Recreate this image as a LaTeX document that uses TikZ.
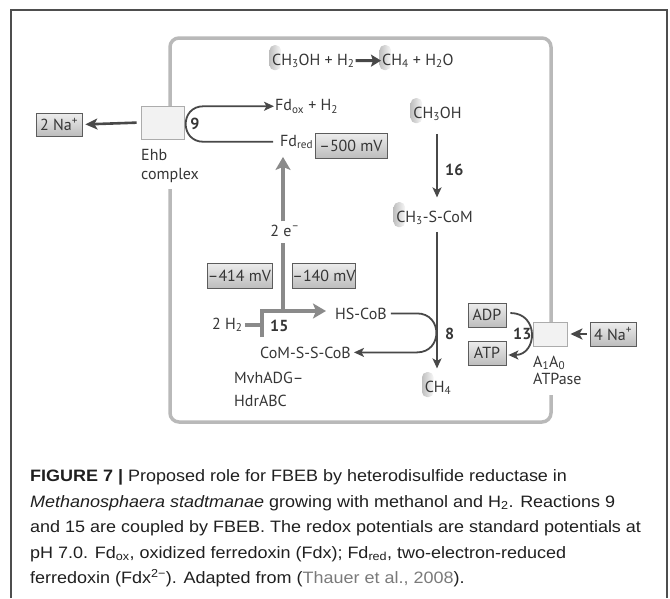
\documentclass[tikz,border=0pt]{standalone}
\usepackage{fontspec}
\setmainfont{PT Sans}
\newfontfamily\capfont[FakeStretch=1.09]{Liberation Sans}
\usetikzlibrary{arrows.meta,calc}
\definecolor{dk}{HTML}{484848}
\definecolor{lg}{HTML}{8A8A8A}
\definecolor{cellc}{HTML}{B9B9B9}
\definecolor{txt}{HTML}{363636}
\definecolor{outer}{HTML}{4E4E4E}
\definecolor{refc}{HTML}{7A7A7A}
\pgfdeclarelayer{bg}
\pgfsetlayers{bg,main}
\newcommand\hlblob[1]{%
  \begin{pgfonlayer}{bg}
  \shade[left color=gray!50, right color=gray!6, rounded corners=5pt]
    ($(#1.west)+(-2.5,-15.5)$) rectangle ($(#1.west)+(9,9.5)$);
  \end{pgfonlayer}}
\begin{document}
\begin{tikzpicture}[x=1pt,y=-1pt,
  lbl/.style={font=\fontsize{16}{18}\selectfont, text=txt, inner sep=0pt},
  num/.style={font=\bfseries\fontsize{16}{18}\selectfont, text=txt, inner sep=0pt},
  gbox/.style={draw=gray!72!black, line width=0.8pt, top color=gray!14, bottom color=gray!52,
               inner sep=0pt, font=\fontsize{16}{18}\selectfont, text=txt},
  ebox/.style={draw=gray!65, line width=0.9pt, fill=gray!10},
  captext/.style={font=\capfont\fontsize{16.5}{20}\selectfont, text=black!88, inner sep=0pt},
  darr/.style={draw=dk, line width=1.8pt, -{Stealth[length=10pt,width=9pt,inset=2.5pt]}},
  narr/.style={draw=dk, line width=2.6pt, -{Stealth[length=12pt,width=11pt,inset=3pt]}},
  garr/.style={draw=lg, line width=4pt, -{Stealth[length=13pt,width=15pt,inset=3pt]}},
  gline/.style={draw=lg, line width=4pt},
  eqarr/.style={draw=dk, line width=3pt, -{Stealth[length=10pt,width=12pt,inset=2pt]}},
  cell/.style={draw=cellc, line width=3.5pt, rounded corners=9pt},
]
\useasboundingbox (0,0) rectangle (670,598);
% outer frame
\draw[outer, line width=1.5pt] (11,598) -- (11,10) -- (667,10) -- (667,598);
% cell frame
\draw[cell] (170,106) -- (170,38) -- (551,38) -- (551,322);
\draw[cell] (170,189) -- (170,422) -- (551,422) -- (551,395);

% top equation
\node[lbl, anchor=base west] (eqL) at (272,65) {CH\textsubscript{3}OH + H\textsubscript{2}};
\node[lbl, anchor=base west] (eqR) at (382,65) {CH\textsubscript{4} + H\textsubscript{2}O};
\draw[eqarr] ($(eqL.east)+(1,0)$) -- ($(eqR.west)+(-1,0)$);
\hlblob{eqL}
\hlblob{eqR}

% Ehb complex
\node[ebox, minimum width=43pt, minimum height=33pt] (ehb) at (162.5,122.5) {};
\node[gbox, minimum width=46pt, minimum height=23pt] (na2) at (59,124.5) {2 Na\textsuperscript{+}};
\draw[narr, shorten <=4pt, shorten >=3pt] (ehb.west) -- (na2.east);
\node[lbl, anchor=base west] (ehbt) at (141,160) {Ehb};
\node[lbl, anchor=base west] (cplx) at (141,179) {complex};

% reaction 9
\node[lbl, anchor=base west] (fdox) at (275,110.5) {Fd\textsubscript{ox} + H\textsubscript{2}};
\node[lbl, anchor=base west] (fdred) at (280,146) {Fd\textsubscript{red}};
\node[gbox, minimum width=72pt, minimum height=25pt] (m500) at (351,145.5) {–500 mV};
\draw[darr] ($(fdred.west)+(-7,0)$) -- ($(fdred.west -| ehb.east)+(19,0)$)
   .. controls +(-23.7,0) and +(-23.7,0) .. ($(fdox.west -| ehb.east)+(19,0)$)
   -- ($(fdox.west)+(-1,0)$);
\node[num] (n9) at (195,123.5) {9};

% electrons
\coordinate (ev) at (283,0);
\node[lbl, anchor=base] (e2) at (285,236) {2 e\textsuperscript{–}};
\draw[garr] ($(e2.north -| ev)+(0,-3)$) -- ($(fdred.south -| ev)+(0,8)$);

% potentials
\node[gbox, minimum width=65pt, minimum height=25pt] (m414) at (239.5,275.5) {–414 mV};
\node[gbox, minimum width=62pt, minimum height=25pt] (m140) at (324,275.5) {–140 mV};

% reaction 15
\node[lbl, anchor=base west] (h2) at (212,329) {2 H\textsubscript{2}};
\node[lbl, anchor=base west] (hs) at (335,319) {HS-CoB};
\node[lbl, anchor=base west] (coms) at (260,358) {CoM-S-S-CoB};
\coordinate (j1) at (262,311);
\coordinate (j2) at (262,337);
\draw[gline] ($(e2.south -| ev)+(0,7)$) -- (ev |- j1);
\draw[gline] ($(h2.east)+(2,0)$) -- (h2.east -| j1);
\draw[garr] (j2) -- (j1) -- ($(j1 -| hs.west)+(-9,0)$);
\node[num, anchor=base west] (n15) at (270,331) {15};
\node[lbl, anchor=base west] (mvh) at (234,383) {MvhADG–};
\node[lbl, anchor=base west] (hdr) at (234,406) {HdrABC};

% methanol pathway
\coordinate (vx) at (437,0);
\node[lbl, anchor=base] (ch3oh) at (437.5,118) {CH\textsubscript{3}OH};
\node[lbl, anchor=base] (ch3s) at (434.5,222) {CH\textsubscript{3}-S-CoM};
\node[lbl, anchor=base] (ch4) at (438,392) {CH\textsubscript{4}};
\hlblob{ch3oh}
\hlblob{ch3s}
\hlblob{ch4}
\draw[darr] ($(ch3oh.south -| vx)+(0,13)$) -- ($(ch3s.north -| vx)+(0,-13)$);
\node[num, anchor=base west] (n16) at (445,175) {16};
\draw[darr] ($(ch3s.south -| vx)+(0,7)$) -- ($(ch4.north -| vx)+(0,-12)$);

% reaction 8 loop
\coordinate (h8a) at ($(hs.east)+(30,0)$);
\draw[darr] ($(hs.east)+(4,0)$) -- (h8a)
   .. controls +(26,0) and +(26,0) .. (h8a |- coms.east)
   -- ($(coms.east)+(3,0)$);
\node[num, anchor=base west] (n8) at (445,339) {8};

% ATP synthase
\node[gbox, minimum width=38pt, minimum height=24pt] (adp) at (487,315) {ADP};
\node[gbox, minimum width=38pt, minimum height=24pt] (atp) at (487,353) {ATP};
\draw[darr] ($(adp.east)+(4,-2)$) .. controls +(29,0) and +(29,0) .. ($(atp.east)+(2,2)$);
\node[num, anchor=base west] (n13) at (513,339) {13};
\node[ebox, minimum width=34pt, minimum height=24pt] (atpase) at (550,334) {};
\node[gbox, minimum width=46pt, minimum height=24pt] (na4) at (613,334) {4 Na\textsuperscript{+}};
\draw[narr, shorten <=3pt, shorten >=3pt] (na4.west) -- (atpase.east);
\node[lbl, anchor=base west] (a1a0) at (533,367) {A\textsubscript{1}A\textsubscript{0}};
\node[lbl, anchor=base west] (atpt) at (533,384) {ATPase};

% caption
\node[captext, anchor=base west] (c1) at (30,481.5) {{\bfseries FIGURE 7 |} Proposed role for FBEB by heterodisulfide reductase in};
\node[captext, anchor=base west] (c2) at (30,507) {\textit{Methanosphaera stadtmanae} growing with methanol and H\textsubscript{2}. Reactions 9};
\node[captext, anchor=base west] (c3) at (30,532.5) {and 15 are coupled by FBEB. The redox potentials are standard potentials at};
\node[captext, anchor=base west] (c4) at (30,558) {pH 7.0. Fd\textsubscript{ox}, oxidized ferredoxin (Fdx); Fd\textsubscript{red}, two-electron-reduced};
\node[captext, anchor=base west] (c5) at (30,583.5) {ferredoxin (Fdx\textsuperscript{2−}). Adapted from (\textcolor{refc}{Thauer et al., 2008}).};
\end{tikzpicture}
\end{document}
